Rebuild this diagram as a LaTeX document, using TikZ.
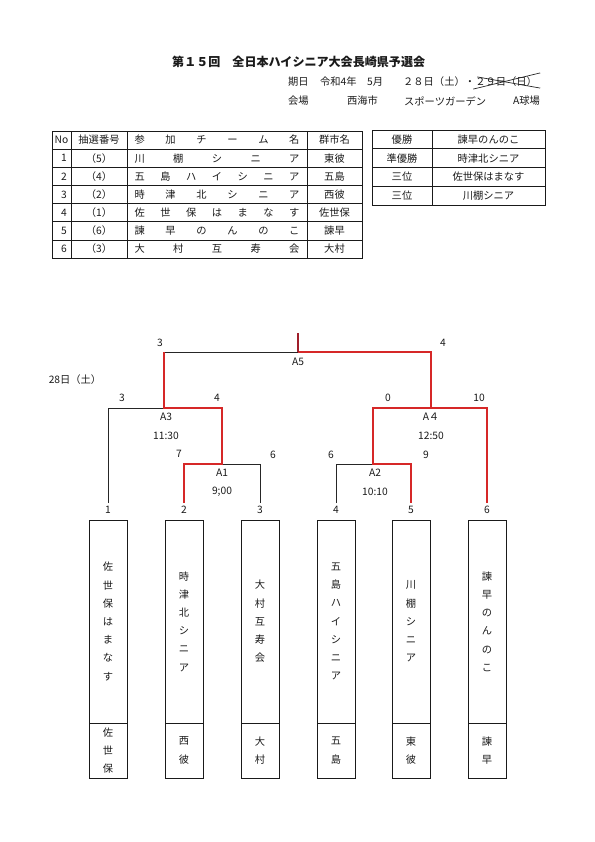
\documentclass[tikz,border=0pt]{standalone}
\usepackage{fontspec}
\usepackage{tikz}
\usetikzlibrary{positioning,calc}
\setmainfont{Noto Sans CJK JP}
\definecolor{BRRed}{HTML}{D62828}
\definecolor{BRDark}{HTML}{A01E2A}
\definecolor{BRInk}{HTML}{1A1A1A}
\tikzset{
  txt/.style={inner sep=0pt,text=BRInk,font=\fontsize{10.3}{12}\selectfont},
  grid/.style={draw=BRInk,line width=0.6bp},
  lose/.style={draw=black!85,line width=0.7bp},
  win/.style={draw=BRRed,line width=1.8bp},
  vtext/.style={txt,align=center,font=\fontsize{10.3}{18.3}\selectfont},
}
\newcommand{\spreadname}[1]{\hbox to 165bp{#1}}

\begin{document}
\begin{tikzpicture}[x=1bp,y=-1bp]
  \useasboundingbox (0,0) rectangle (595,842);
  \node[txt,anchor=west,font=\bfseries\fontsize{12.1}{14}\selectfont] (title) at (172,62) {第１５回　全日本ハイシニア大会長崎県予選会};
  \node[txt,anchor=west] (datelab) at (288,82) {期日};
  \node[txt,anchor=west] (dateera) at (320,82) {令和4年};
  \node[txt,anchor=west] (datemon) at (367,82) {5月};
  \node[txt,anchor=west] (dateday) at (403,82) {２８日（土）・};
  \node[txt,right=0pt of dateday] (datecut) {２９日（日）};
  \draw[lose] ($(datecut.south west)+(-2,2)$) -- ($(datecut.north east)+(3,-4)$);
  \draw[lose] ($(datecut.north west)+(2,0)$) -- ($(datecut.south east)+(3,1)$);
  \node[txt,anchor=west] (placelab) at (288,101) {会場};
  \node[txt,anchor=west] (placecity) at (347,101) {西海市};
  \node[txt,anchor=west] (placepark) at (404,101) {スポーツガーデン};
  \node[txt,anchor=west] (placefield) at (513,101) {A球場};

  \draw[grid] (52,131) rectangle (362,258);
  \foreach \k in {1,...,6}
    \draw[grid] (52,{131+18.14*\k}) -- (362,{131+18.14*\k});
  \foreach \x in {71,127,307}
    \draw[grid] (\x,131) -- (\x,258);
  \node[txt] (hno) at (61.5,140) {No};
  \node[txt] (hlot) at (99,140) {抽選番号};
  \node[txt] (hteam) at (217,140) {\spreadname{参\hfil 加\hfil チ\hfil ー\hfil ム\hfil 名}};
  \node[txt] (hcity) at (334.5,140) {群市名};
  \foreach \k/\lot/\team/\city in {
      1/（5）/{川\hfil 棚\hfil シ\hfil ニ\hfil ア}/東彼,
      2/（4）/{五\hfil 島\hfil ハ\hfil イ\hfil シ\hfil ニ\hfil ア}/五島,
      3/（2）/{時\hfil 津\hfil 北\hfil シ\hfil ニ\hfil ア}/西彼,
      4/（1）/{佐\hfil 世\hfil 保\hfil は\hfil ま\hfil な\hfil す}/佐世保,
      5/（6）/{諫\hfil 早\hfil の\hfil ん\hfil の\hfil こ}/諫早,
      6/（3）/{大\hfil 村\hfil 互\hfil 寿\hfil 会}/大村} {
    \node[txt,anchor=east] (no\k) at (67,{140+18.14*\k}) {\k};
    \node[txt] (lot\k) at (99,{140+18.14*\k}) {\lot};
    \node[txt] (team\k) at (217,{140+18.14*\k}) {\spreadname{\team}};
    \node[txt] (city\k) at (334.5,{140+18.14*\k}) {\city};
  }

  \draw[grid] (372,130) rectangle (545,205);
  \foreach \k in {1,2,3}
    \draw[grid] (372,{130+18.75*\k}) -- (545,{130+18.75*\k});
  \draw[grid] (432,130) -- (432,205);
  \foreach \k/\rank/\club in {1/優勝/諫早のんのこ,2/準優勝/時津北シニア,3/三位/佐世保はまなす,4/三位/川棚シニア} {
    \node[txt] (rank\k) at (402,{139.4+18.75*(\k-1)}) {\rank};
    \node[txt] (club\k) at (488.5,{139.4+18.75*(\k-1)}) {\club};
  }

  \foreach \i/\x/\name/\city in {
      1/108/{佐\\世\\保\\は\\ま\\な\\す}/{佐\\世\\保},
      2/184/{時\\津\\北\\シ\\ニ\\ア}/{西\\彼},
      3/260/{大\\村\\互\\寿\\会}/{大\\村},
      4/336/{五\\島\\ハ\\イ\\シ\\ニ\\ア}/{五\\島},
      5/411/{川\\棚\\シ\\ニ\\ア}/{東\\彼},
      6/487/{諫\\早\\の\\ん\\の\\こ}/{諫\\早}} {
    \draw[grid] ({\x-19},520) rectangle ({\x+19},778);
    \draw[grid] ({\x-19},723) -- ({\x+19},723);
    \node[vtext] (name\i) at (\x,621.5) {\name};
    \node[vtext] (city\i) at (\x,750.5) {\city};
    \node[txt] (seed\i) at (\x,510) {\i};
    \coordinate (top\i) at (\x,503);
  }

  \coordinate (A1) at (222,464);
  \coordinate (A2) at (373,464);
  \coordinate (A3) at (164,408);
  \coordinate (A4) at (431,408);
  \coordinate (A5) at (298,352);
  \coordinate (A5top) at (298,333);
  \draw[lose] (top1) |- (A3);
  \draw[lose] (top3) |- (A1);
  \draw[lose] (top4) |- (A2);
  \draw[lose] (A3 |- A5) -- (A5);
  \draw[win] (top2) |- (A1) |- (A3) -- (A3 |- A5);
  \draw[win] (top5) |- (A2) |- (A4) |- (A5);
  \draw[win] (top6) |- (A4);
  \draw[win,draw=BRDark] (A5) -- (A5top);

  \node[txt] (day) at (75,380) {28日（土）};
  \foreach \n/\x/\y/\t in {mA5/298/362/A5,mA3/166/417/A3,mA1/222/473/A1,mA4/431/417/A４,mA2/375/473/A2,
      tA3/166/436/11:30,tA1/222/492/9;00,tA4/431/436/12:50,tA2/375/492/10:10}
    \node[txt] (\n) at (\x,\y) {\t};
  \foreach \n/\x/\y/\s in {s5l/160/343/3,s5r/443/343/4,s3l/122/398/3,s3r/217/398/4,s1l/179/454/7,s1r/273/455/6,
      s4l/388/398/0,s4r/479/398/10,s2l/331/455/6,s2r/426/455/9}
    \node[txt] (\n) at (\x,\y) {\s};
\end{tikzpicture}
\end{document}
